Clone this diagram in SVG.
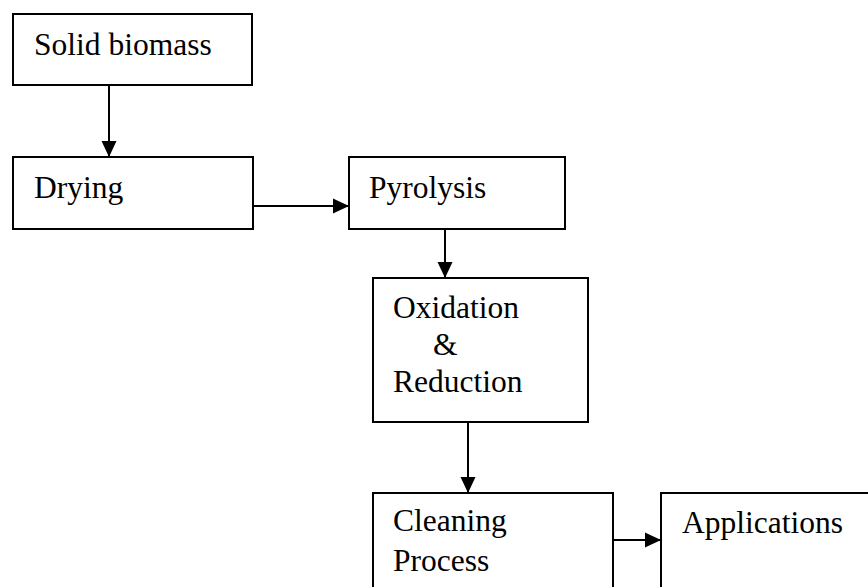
<svg xmlns="http://www.w3.org/2000/svg" width="868" height="587" viewBox="0 0 868 587">
<style>
.box{fill:#fff;stroke:#000;stroke-width:2}
.lbl{font-family:"Liberation Serif","Times New Roman",serif;font-size:31.5px;fill:#000}
.conn{stroke:#000;stroke-width:2;fill:none}
</style>
<defs>
<marker id="ah" markerUnits="userSpaceOnUse" markerWidth="16" markerHeight="16" refX="16" refY="8" orient="auto">
<path d="M0,0.5 L16,8 L0,15.5 Z" fill="#000"/>
</marker>
</defs>
<rect width="868" height="587" fill="#fff"/>
<g id="connectors">
<line class="conn" x1="109" y1="85" x2="109" y2="157" marker-end="url(#ah)"/>
<line class="conn" x1="253" y1="206" x2="349" y2="206" marker-end="url(#ah)"/>
<line class="conn" x1="445" y1="229" x2="445" y2="278" marker-end="url(#ah)"/>
<line class="conn" x1="468" y1="422" x2="468" y2="493" marker-end="url(#ah)"/>
<line class="conn" x1="613" y1="540" x2="661" y2="540" marker-end="url(#ah)"/>
</g>
<g id="solid-biomass">
<rect class="box" x="13" y="14" width="239" height="71"/>
<text class="lbl" x="34" y="55">Solid biomass</text>
</g>
<g id="drying">
<rect class="box" x="13" y="157" width="240" height="72"/>
<text class="lbl" x="34" y="198">Drying</text>
</g>
<g id="pyrolysis">
<rect class="box" x="349" y="157" width="216" height="72"/>
<text class="lbl" x="369" y="198">Pyrolysis</text>
</g>
<g id="oxidation-reduction">
<rect class="box" x="373" y="278" width="215" height="144"/>
<text class="lbl" x="393" y="318">Oxidation</text>
<text class="lbl" x="433" y="355">&amp;</text>
<text class="lbl" x="393" y="392">Reduction</text>
</g>
<g id="cleaning-process">
<rect class="box" x="373" y="493" width="240" height="120"/>
<text class="lbl" x="393" y="531">Cleaning</text>
<text class="lbl" x="393" y="571">Process</text>
</g>
<g id="applications">
<rect class="box" x="661" y="493" width="240" height="120"/>
<text class="lbl" x="682" y="533">Applications</text>
</g>
</svg>
